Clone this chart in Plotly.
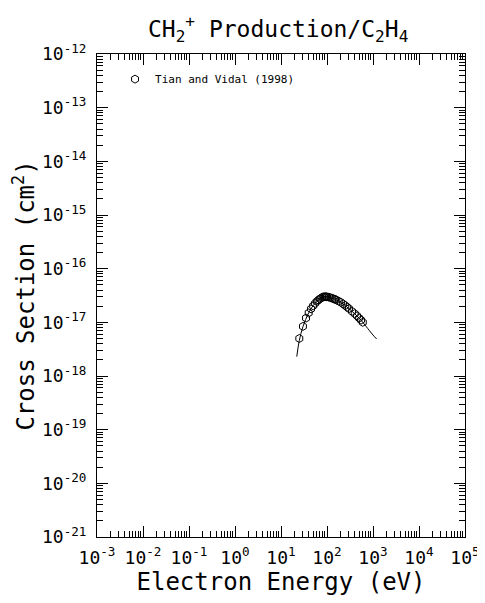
import plotly.graph_objects as go

# Tian and Vidal (1998) measured points
energy_eV = [25, 30, 35, 40, 45, 50, 55, 60, 65, 70, 75, 80, 85, 90, 95, 100,
             110, 120, 130, 140, 150, 160, 180, 200, 225, 250, 275, 300,
             350, 400, 450, 500, 550, 600]
cross_section = [5.0e-18, 8.4e-18, 1.2e-17, 1.5e-17, 1.78e-17, 2.03e-17, 2.25e-17,
                 2.45e-17, 2.6e-17, 2.75e-17, 2.85e-17, 2.95e-17, 2.98e-17, 3.0e-17,
                 3.0e-17, 2.98e-17, 2.94e-17, 2.88e-17, 2.8e-17, 2.74e-17, 2.68e-17,
                 2.6e-17, 2.48e-17, 2.36e-17, 2.2e-17, 2.05e-17, 1.92e-17, 1.8e-17,
                 1.6e-17, 1.45e-17, 1.32e-17, 1.2e-17, 1.1e-17, 1.0e-17]

# Recommended fit curve
fit_energy = [22, 25, 30, 40, 50, 70, 90, 120, 200, 300, 500, 700, 1000, 1200]
fit_cross = [2.3e-18, 4.6e-18, 8.3e-18, 1.5e-17, 2.05e-17, 2.75e-17, 3.0e-17,
             2.9e-17, 2.35e-17, 1.8e-17, 1.2e-17, 8.5e-18, 5.8e-18, 4.9e-18]

x_exps = list(range(-3, 6))
y_exps = list(range(-21, -11))
x_tickvals = [10.0 ** e for e in x_exps]
x_ticktext = ["10<sup>%d</sup>" % e for e in x_exps]
y_tickvals = [10.0 ** e for e in y_exps]
y_ticktext = ["10<sup>%d</sup>" % e for e in y_exps]

FONT = "DejaVu Sans Mono"

fig = go.Figure()
fig.add_trace(go.Scatter(x=fit_energy, y=fit_cross, mode="lines",
                         line=dict(color="black", width=1, shape="spline"),
                         showlegend=False, hoverinfo="skip"))
fig.add_trace(go.Scatter(x=energy_eV, y=cross_section, mode="markers",
                         name="Tian and Vidal (1998)",
                         marker=dict(symbol="hexagon-open", size=8,
                                     color="black", line=dict(width=1, color="black"))))

axis_common = dict(type="log", showgrid=False, zeroline=False, showline=True,
                   linecolor="black", linewidth=1, mirror="allticks",
                   ticks="inside", ticklen=11, tickcolor="black", tickwidth=1,
                   automargin=False,
                   tickfont=dict(family=FONT, size=18, color="black"),
                   minor=dict(ticks="inside", ticklen=6, tickcolor="black",
                              tickwidth=1, dtick="D1", showgrid=False))

fig.update_xaxes(**axis_common, range=[-3, 5], tickvals=x_tickvals, ticktext=x_ticktext,
                 ticklabelstandoff=4,
                 title=dict(text="Electron Energy (eV)",
                            font=dict(family=FONT, size=24, color="black"), standoff=2))
fig.update_yaxes(**axis_common, range=[-21, -12], tickvals=y_tickvals, ticktext=y_ticktext,
                 ticklabelstandoff=6,
                 title=dict(text="Cross Section (cm<sup>2</sup>)",
                            font=dict(family=FONT, size=24, color="black"), standoff=6))

fig.update_layout(
    width=485, height=603,
    margin=dict(l=89, r=28, t=46, b=74, autoexpand=False),
    paper_bgcolor="white", plot_bgcolor="white",
    title=dict(text="CH<sub>2</sub><sup>+</sup> Production/C<sub>2</sub>H<sub>4</sub>",
               x=0.557, xanchor="center", y=0.965, yanchor="middle",
               font=dict(family=FONT, size=23, color="black")),
    legend=dict(x=0.049, y=0.978, xanchor="left", yanchor="top",
                bgcolor="rgba(0,0,0,0)", borderwidth=0,
                font=dict(family=FONT, size=11, color="black")),
    showlegend=True,
)

fig.write_html("out.html")
